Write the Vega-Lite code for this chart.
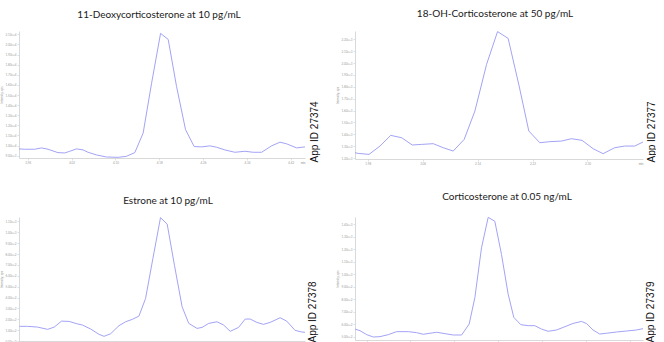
{
  "$schema": "https://vega.github.io/schema/vega-lite/v6.json",
  "background": "white",
  "padding": {"left": 0, "top": 8, "right": 0, "bottom": 0},
  "columns": 2,
  "bounds": "flush",
  "spacing": {"row": 58, "column": 50},
  "config": {
    "view": {"stroke": null},
    "font": "Lato",
    "title": {"font": "Lato", "fontSize": 10, "fontWeight": "normal", "color": "#1a1a1a", "frame": "group", "anchor": "middle"},
    "axis": {
      "grid": false,
      "domainColor": "#cfcfcf",
      "domainWidth": 0.8,
      "tickColor": "#cfcfcf",
      "tickSize": 2,
      "tickWidth": 0.6,
      "labelColor": "#a0a0a0",
      "labelFontSize": 3,
      "labelPadding": 1,
      "labelOverlap": false,
      "titleColor": "#909090",
      "titleFontSize": 3,
      "titleFontWeight": "normal",
      "titlePadding": 2
    },
    "line": {"color": "#a3a3f6", "strokeWidth": 1}
  },
  "datasets": {
    "deoxy": [
      {"t": 3.924, "i": 9667}, {"t": 3.9345, "i": 9633}, {"t": 3.9528, "i": 9633}, {"t": 3.965, "i": 9767},
      {"t": 3.977, "i": 9633}, {"t": 3.995, "i": 9300}, {"t": 4.0076, "i": 9267}, {"t": 4.0167, "i": 9433},
      {"t": 4.029, "i": 9667}, {"t": 4.041, "i": 9567}, {"t": 4.05, "i": 9333}, {"t": 4.0655, "i": 9067},
      {"t": 4.0837, "i": 8867}, {"t": 4.105, "i": 8833}, {"t": 4.12, "i": 8933}, {"t": 4.1354, "i": 9300},
      {"t": 4.1506, "i": 11233}, {"t": 4.166, "i": 16167}, {"t": 4.1824, "i": 21100}, {"t": 4.1963, "i": 20500},
      {"t": 4.2116, "i": 15833}, {"t": 4.228, "i": 11567}, {"t": 4.2437, "i": 9900}, {"t": 4.2573, "i": 9867},
      {"t": 4.2724, "i": 9967}, {"t": 4.2847, "i": 9833}, {"t": 4.2998, "i": 9567}, {"t": 4.318, "i": 9333},
      {"t": 4.3363, "i": 9433}, {"t": 4.3515, "i": 9333}, {"t": 4.3668, "i": 9333}, {"t": 4.385, "i": 9967},
      {"t": 4.4003, "i": 10333}, {"t": 4.4125, "i": 10167}, {"t": 4.4307, "i": 9767}, {"t": 4.446, "i": 9867}
    ],
    "oh18": [
      {"t": 1.9615, "i": 1245}, {"t": 1.9663, "i": 1239}, {"t": 1.9819, "i": 1231}, {"t": 1.9979, "i": 1301},
      {"t": 2.0135, "i": 1391}, {"t": 2.0295, "i": 1371}, {"t": 2.0449, "i": 1310}, {"t": 2.0585, "i": 1315},
      {"t": 2.0754, "i": 1321}, {"t": 2.09, "i": 1287}, {"t": 2.1045, "i": 1259}, {"t": 2.1205, "i": 1357},
      {"t": 2.1361, "i": 1596}, {"t": 2.1531, "i": 1989}, {"t": 2.1691, "i": 2265}, {"t": 2.1845, "i": 2208},
      {"t": 2.2005, "i": 1807}, {"t": 2.2146, "i": 1428}, {"t": 2.2306, "i": 1329}, {"t": 2.2452, "i": 1338},
      {"t": 2.2622, "i": 1343}, {"t": 2.2767, "i": 1363}, {"t": 2.2922, "i": 1349}, {"t": 2.3082, "i": 1279},
      {"t": 2.3227, "i": 1237}, {"t": 2.3397, "i": 1287}, {"t": 2.3543, "i": 1301}, {"t": 2.3688, "i": 1301},
      {"t": 2.3809, "i": 1335}
    ],
    "estrone": [
      {"t": 3.9343, "i": 135}, {"t": 3.9486, "i": 135}, {"t": 3.9657, "i": 128}, {"t": 3.9829, "i": 107},
      {"t": 3.9943, "i": 128}, {"t": 4.0069, "i": 183}, {"t": 4.02, "i": 180}, {"t": 4.0331, "i": 159},
      {"t": 4.0429, "i": 147}, {"t": 4.0571, "i": 110}, {"t": 4.0714, "i": 61}, {"t": 4.08, "i": 43},
      {"t": 4.0914, "i": 67}, {"t": 4.1057, "i": 141}, {"t": 4.1171, "i": 177}, {"t": 4.1286, "i": 199},
      {"t": 4.14, "i": 229}, {"t": 4.1514, "i": 391}, {"t": 4.164, "i": 758}, {"t": 4.1771, "i": 1135},
      {"t": 4.1886, "i": 1076}, {"t": 4.2011, "i": 697}, {"t": 4.2143, "i": 315}, {"t": 4.2257, "i": 162},
      {"t": 4.24, "i": 116}, {"t": 4.2486, "i": 125}, {"t": 4.26, "i": 162}, {"t": 4.2743, "i": 177},
      {"t": 4.2857, "i": 147}, {"t": 4.2971, "i": 89}, {"t": 4.3114, "i": 125}, {"t": 4.3229, "i": 202},
      {"t": 4.3314, "i": 202}, {"t": 4.3429, "i": 171}, {"t": 4.3543, "i": 153}, {"t": 4.3657, "i": 171},
      {"t": 4.3829, "i": 214}, {"t": 4.3943, "i": 183}, {"t": 4.4086, "i": 98}, {"t": 4.42, "i": 83},
      {"t": 4.4257, "i": 80}
    ],
    "cortico": [
      {"t": 2.5787, "i": 561}, {"t": 2.5878, "i": 548}, {"t": 2.6, "i": 516}, {"t": 2.6122, "i": 497},
      {"t": 2.6243, "i": 500}, {"t": 2.6395, "i": 516}, {"t": 2.6547, "i": 540}, {"t": 2.676, "i": 540},
      {"t": 2.6912, "i": 532}, {"t": 2.7033, "i": 519}, {"t": 2.7155, "i": 527}, {"t": 2.7277, "i": 535},
      {"t": 2.7429, "i": 524}, {"t": 2.7581, "i": 513}, {"t": 2.7733, "i": 513}, {"t": 2.7872, "i": 601},
      {"t": 2.7976, "i": 814}, {"t": 2.8097, "i": 1213}, {"t": 2.8219, "i": 1457}, {"t": 2.834, "i": 1426},
      {"t": 2.8462, "i": 1160}, {"t": 2.8584, "i": 840}, {"t": 2.8687, "i": 654}, {"t": 2.8815, "i": 596},
      {"t": 2.8948, "i": 588}, {"t": 2.907, "i": 588}, {"t": 2.9191, "i": 561}, {"t": 2.9313, "i": 543},
      {"t": 2.9465, "i": 553}, {"t": 2.9587, "i": 574}, {"t": 2.9769, "i": 606}, {"t": 2.9921, "i": 622},
      {"t": 3.0012, "i": 606}, {"t": 3.0134, "i": 553}, {"t": 3.0255, "i": 521}, {"t": 3.0377, "i": 527},
      {"t": 3.0559, "i": 537}, {"t": 3.0742, "i": 545}, {"t": 3.0924, "i": 553}, {"t": 3.1046, "i": 564}
    ]
  },
  "concat": [
    {
      "title": {"text": "11-Deoxycorticosterone at 10 pg/mL", "offset": 11, "dx": -3},
      "width": 286,
      "height": 127,
      "data": {"name": "deoxy"},
      "layer": [
        {
          "mark": "line",
          "encoding": {
            "x": {"field": "t", "type": "quantitative", "scale": {"domain": [3.924, 4.446], "nice": false, "zero": false},
                  "axis": {"values": [3.94, 3.98, 4.02, 4.06, 4.10, 4.14, 4.18, 4.22, 4.26, 4.30, 4.34, 4.38, 4.42], "format": ".2f",
                           "title": "min", "titleAnchor": "end", "titleAlign": "right", "titleBaseline": "top", "titleY": 3, "titleX": 286}},
            "y": {"field": "i", "type": "quantitative", "scale": {"domain": [8767, 21333], "nice": false, "zero": false},
                  "axis": {"values": [9000, 10000, 11000, 12000, 13000, 14000, 15000, 16000, 17000, 18000, 19000, 20000, 21000], "format": ".2e", "title": "Intensity, cps"}}
          }
        },
        {
          "mark": {"type": "line", "opacity": 0},
          "encoding": {
            "x": {"field": "t", "type": "quantitative"},
            "y": {"field": "i", "type": "quantitative", "scale": {"domain": [8767, 21333], "nice": false, "zero": false},
                  "axis": {"orient": "right", "labels": false, "ticks": false, "domain": false, "title": "App ID 27374",
                           "titleFont": "Liberation Sans", "titleFontSize": 10, "titleColor": "#111111", "titleAngle": 270,
                           "titleAlign": "left", "titleBaseline": "middle", "titleX": 9, "titleY": 131}}
          }
        }
      ],
      "resolve": {"scale": {"y": "independent"}, "axis": {"y": "independent"}}
    },
    {
      "title": {"text": "18-OH-Corticosterone at 50 pg/mL", "offset": 11, "dx": -4},
      "width": 288,
      "height": 128,
      "data": {"name": "oh18"},
      "layer": [
        {
          "mark": "line",
          "encoding": {
            "x": {"field": "t", "type": "quantitative", "scale": {"domain": [1.9615, 2.3809], "nice": false, "zero": false},
                  "axis": {"values": [1.98, 2.02, 2.06, 2.10, 2.14, 2.18, 2.22, 2.26, 2.30, 2.34], "format": ".2f",
                           "title": "min", "titleAnchor": "end", "titleAlign": "right", "titleBaseline": "top", "titleY": 3, "titleX": 288}},
            "y": {"field": "i", "type": "quantitative", "scale": {"domain": [1192, 2270], "nice": false, "zero": false},
                  "axis": {"values": [1200, 1300, 1400, 1500, 1600, 1700, 1800, 1900, 2000, 2100, 2200], "format": ".2e", "title": "Intensity, cps"}}
          }
        },
        {
          "mark": {"type": "line", "opacity": 0},
          "encoding": {
            "x": {"field": "t", "type": "quantitative"},
            "y": {"field": "i", "type": "quantitative", "scale": {"domain": [1192, 2270], "nice": false, "zero": false},
                  "axis": {"orient": "right", "labels": false, "ticks": false, "domain": false, "title": "App ID 27377",
                           "titleFont": "Liberation Sans", "titleFontSize": 10, "titleColor": "#111111", "titleAngle": 270,
                           "titleAlign": "left", "titleBaseline": "middle", "titleX": 8, "titleY": 131}}
          }
        }
      ],
      "resolve": {"scale": {"y": "independent"}, "axis": {"y": "independent"}}
    },
    {
      "title": {"text": "Estrone at 10 pg/mL", "offset": 10, "dx": 6},
      "width": 286,
      "height": 124,
      "data": {"name": "estrone"},
      "layer": [
        {
          "mark": "line",
          "encoding": {
            "x": {"field": "t", "type": "quantitative", "scale": {"domain": [3.9337, 4.4257], "nice": false, "zero": false},
                  "axis": {"values": [3.94, 3.98, 4.02, 4.06, 4.10, 4.14, 4.18, 4.22, 4.26, 4.30, 4.34, 4.38], "format": ".2f", "title": null}},
            "y": {"field": "i", "type": "quantitative", "scale": {"domain": [0, 1141], "nice": false, "zero": false},
                  "axis": {"values": [0, 100, 200, 300, 400, 500, 600, 700, 800, 900, 1000, 1100], "format": ".2e", "title": "Intensity, cps"}}
          }
        },
        {
          "mark": {"type": "line", "opacity": 0},
          "encoding": {
            "x": {"field": "t", "type": "quantitative"},
            "y": {"field": "i", "type": "quantitative", "scale": {"domain": [0, 1141], "nice": false, "zero": false},
                  "axis": {"orient": "right", "labels": false, "ticks": false, "domain": false, "title": "App ID 27378",
                           "titleFont": "Liberation Sans", "titleFontSize": 10, "titleColor": "#111111", "titleAngle": 270,
                           "titleAlign": "left", "titleBaseline": "middle", "titleX": 7, "titleY": 125}}
          }
        }
      ],
      "resolve": {"scale": {"y": "independent"}, "axis": {"y": "independent"}}
    },
    {
      "title": {"text": "Corticosterone at 0.05 ng/mL", "offset": 13, "dx": 8},
      "width": 288,
      "height": 123,
      "data": {"name": "cortico"},
      "layer": [
        {
          "mark": "line",
          "encoding": {
            "x": {"field": "t", "type": "quantitative", "scale": {"domain": [2.5787, 3.1046], "nice": false, "zero": false},
                  "axis": {"values": [2.60, 2.64, 2.68, 2.72, 2.76, 2.80, 2.84, 2.88, 2.92, 2.96, 3.00, 3.04, 3.08], "format": ".2f", "title": null}},
            "y": {"field": "i", "type": "quantitative", "scale": {"domain": [473, 1460], "nice": false, "zero": false},
                  "axis": {"values": [500, 600, 700, 800, 900, 1000, 1100, 1200, 1300, 1400], "format": ".2e", "title": "Intensity, cps"}}
          }
        },
        {
          "mark": {"type": "line", "opacity": 0},
          "encoding": {
            "x": {"field": "t", "type": "quantitative"},
            "y": {"field": "i", "type": "quantitative", "scale": {"domain": [473, 1460], "nice": false, "zero": false},
                  "axis": {"orient": "right", "labels": false, "ticks": false, "domain": false, "title": "App ID 27379",
                           "titleFont": "Liberation Sans", "titleFontSize": 10, "titleColor": "#111111", "titleAngle": 270,
                           "titleAlign": "left", "titleBaseline": "middle", "titleX": 7, "titleY": 125}}
          }
        }
      ],
      "resolve": {"scale": {"y": "independent"}, "axis": {"y": "independent"}}
    }
  ]
}
